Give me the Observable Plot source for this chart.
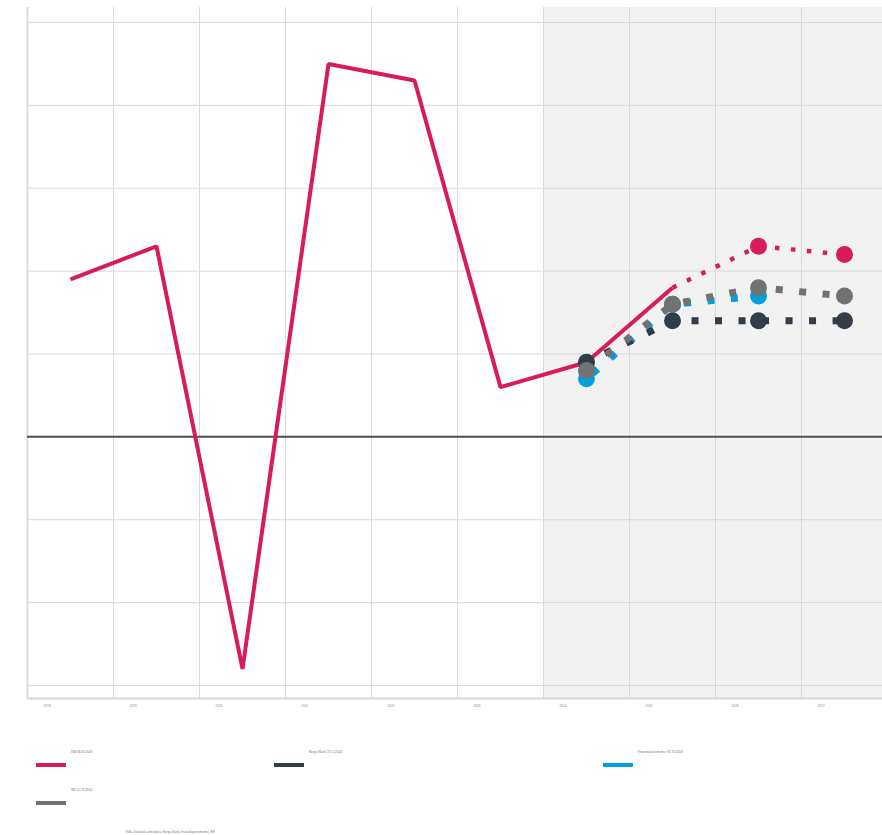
<!DOCTYPE html>
<html><head><meta charset="utf-8">
<script src="https://cdn.jsdelivr.net/npm/d3@7"></script>
<script src="https://cdn.jsdelivr.net/npm/@observablehq/plot@0.6"></script>
<style>
body{margin:0;background:#fff;font-family:"Open Sans",sans-serif}
#wrap{position:relative;width:882px;height:835px;overflow:hidden}
</style></head><body><div id="wrap"><div id="chart"></div><div id="legend"></div></div>
<script>
// Fastlands-BNP, volumendring (%)
const years = [2018, 2019, 2020, 2021, 2022, 2023, 2024, 2025, 2026, 2027];
const actualYears = [2018, 2019, 2020, 2021, 2022, 2023, 2024, 2025];
const actualValues = [1.9, 2.3, -2.8, 4.5, 4.3, 0.6, 0.9, 1.8];
const ssbYears = [2025, 2026, 2027];
const ssbValues = [1.8, 2.3, 2.2];
const nbYears = [2024, 2025, 2026, 2027];
const nbValues = [0.9, 1.4, 1.4, 1.4];
const finYears = [2024, 2025, 2026];
const finValues = [0.7, 1.6, 1.7];
const imfYears = [2024, 2025, 2026, 2027];
const imfValues = [0.8, 1.6, 1.8, 1.7];
const yTicks = [-3, -2, -1, 0, 1, 2, 3, 4, 5];
const forecastStart = 2024;
const seriesNames = ["SSB (06.03.2025)", "Norges Bank (19.12.2024)", "Finansdepartementet (07.10.2024)", "IMF (22.10.2024)"];
const seriesColors = ["#d81b5a", "#323d4a", "#00a0df", "#727272"];
const caption = "Kilde: Statistisk sentralbyrå, Norges Bank, Finansdepartementet, IMF";

const zip = (xs, vs) => xs.map((x, i) => ({x, v: vs[i]}));
const actual = zip(actualYears, actualValues);
const ssb = zip(ssbYears, ssbValues);
const nb = zip(nbYears, nbValues);
const fin = zip(finYears, finValues);
const imf = zip(imfYears, imfValues);
const bounds = years.map(y => y - 0.5).concat([years[years.length - 1] + 0.5]);

const [cSsb, cNb, cFin, cImf] = seriesColors;
const dotted = {strokeLinecap: "butt", strokeLinejoin: "miter"};

const chart = Plot.plot({
  width: 882,
  height: 720,
  marginLeft: 27,
  marginRight: 0,
  marginTop: 7,
  marginBottom: 22,
  x: {type: "linear", domain: [years[0] - 0.5, years[years.length - 1] + 0.5], range: [27, 887]},
  y: {domain: [-3.157, 5.181], axis: null},
  marks: [
    Plot.rect([{x1: forecastStart - 0.5, x2: years[years.length - 1] + 0.5}], {x1: "x1", x2: "x2", fill: "#f2f2f2"}),
    Plot.ruleY(yTicks.filter(d => d !== 0), {stroke: "#dadada", strokeWidth: 1}),
    Plot.ruleX(bounds.slice(1), {stroke: "#dadada", strokeWidth: 1}),
    Plot.ruleX([bounds[0]], {stroke: "#dcdcdc", strokeWidth: 2}),
    Plot.frame({anchor: "bottom", stroke: "#d6d6d6", strokeWidth: 2}),
    Plot.ruleY([0], {stroke: "#4d4d4d", strokeWidth: 2}),
    Plot.axisX(years, {tickSize: 0, tickPadding: 6, dx: -23.5, fontSize: 3.2, fill: "#8a8a8a", tickFormat: d => String(d), label: null}),
    Plot.line(actual, {x: "x", y: "v", stroke: cSsb, strokeWidth: 4, ...dotted}),
    Plot.line(ssb, {x: "x", y: "v", stroke: cSsb, strokeWidth: 4.5, strokeDasharray: "4.5,11.5", ...dotted}),
    Plot.line(fin, {x: "x", y: "v", stroke: cFin, strokeWidth: 7, strokeDasharray: "7,16.5", strokeDashoffset: -8, ...dotted}),
    Plot.line(nb, {x: "x", y: "v", stroke: cNb, strokeWidth: 7, strokeDasharray: "7,16.5", strokeDashoffset: 3, ...dotted}),
    Plot.line(imf, {x: "x", y: "v", stroke: cImf, strokeWidth: 7, strokeDasharray: "7,16.5", strokeDashoffset: -2, ...dotted}),
    Plot.dot(fin, {x: "x", y: "v", r: 8.5, fill: cFin}),
    Plot.dot(nb, {x: "x", y: "v", r: 8.5, fill: cNb}),
    Plot.dot(imf, {x: "x", y: "v", r: 8.5, fill: cImf}),
    Plot.dot(ssb.slice(1), {x: "x", y: "v", r: 8.5, fill: cSsb})
  ]
});
document.getElementById("chart").appendChild(chart);

// Legend and caption
const leg = d3.select("#legend").append("svg").attr("width", 882).attr("height", 115)
  .style("display", "block").style("font-family", "'Open Sans',sans-serif");
const legPos = [[36, 0], [274, 0], [603, 0], [36, 1]];
seriesNames.forEach((name, i) => {
  const [x, row] = legPos[i];
  const y0 = 33 + row * 38;
  leg.append("text").attr("x", x + 35).attr("y", y0).attr("font-size", 2.8).attr("fill", "#666").text(name);
  leg.append("rect").attr("x", x).attr("y", y0 + 10).attr("width", 30).attr("height", 4).attr("fill", seriesColors[i]);
});
leg.append("text").attr("x", 126).attr("y", 113).attr("font-size", 2.8).attr("fill", "#666").text(caption);
</script></body></html>
